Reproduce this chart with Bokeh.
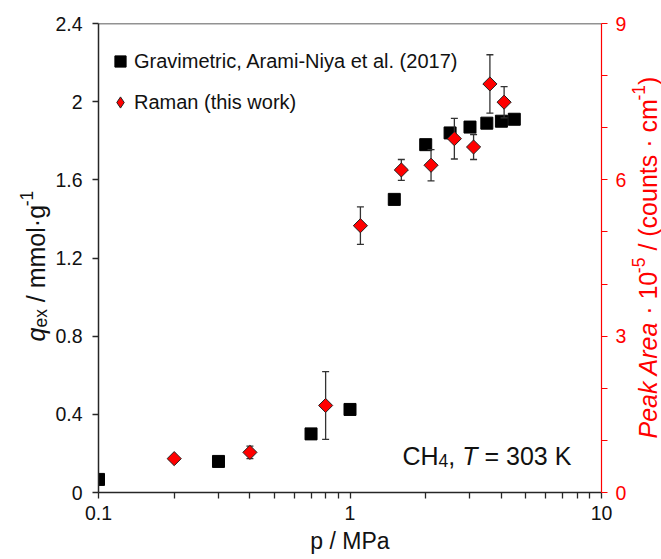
import numpy as np
from bokeh.plotting import figure
from bokeh.layouts import row
from bokeh.models import (Range1d, LinearAxis, FixedTicker, CustomJSTickFormatter,
                          Label, Legend, LegendItem, Span, ColumnDataSource)
from bokeh.embed import file_html
from bokeh.resources import INLINE

# ---------------- data ----------------
grav_p = [0.1, 0.3, 0.7, 1.0, 1.5, 2.0, 2.5, 3.0, 3.5, 4.0, 4.5]
grav_q = [0.067, 0.159, 0.30, 0.425, 1.50, 1.78, 1.84, 1.87, 1.89, 1.90, 1.91]

raman_p = [0.2, 0.4, 0.8, 1.1, 1.6, 2.1, 2.6, 3.1, 3.6, 4.1]
raman_area = [0.65, 0.77, 1.67, 5.12, 6.19, 6.28, 6.79, 6.63, 7.84, 7.49]
raman_err = [0.0, 0.12, 0.65, 0.36, 0.20, 0.30, 0.39, 0.24, 0.56, 0.30]

x_ticks = [0.1, 1, 10]
x_minor = [0.2, 0.3, 0.4, 0.5, 0.6, 0.7, 0.8, 0.9, 2, 3, 4, 5, 6, 7, 8, 9]
left_ticks = [0, 0.4, 0.8, 1.2, 1.6, 2.0, 2.4]
right_ticks = [0, 3, 6, 9]
right_minor = [1, 2, 4, 5, 7, 8]

legend_labels = ["Gravimetric, Arami-Niya et al. (2017)", "Raman (this work)"]
x_title = "p / MPa"

FONT = "Liberation Sans"
DARK = "#262626"
RED = "#FF0000"
BLACK = "#111111"
H = 559
LW = 52   # left title strip width
RW = 31   # right title strip width

# Arial / Liberation Sans advance widths (em)
WID = {'q': .556, 'e': .556, 'x': .5, ' ': .278, '/': .278, 'm': .833,
       'o': .556, 'l': .222, '\u00b7': .278, 'g': .556, '-': .333,
       '1': .556, '5': .556, '0': .556, 'P': .667, 'a': .556, 'k': .5,
       'A': .667, 'r': .333, '(': .333, ')': .333, 'c': .5, 'u': .556,
       'n': .556, 't': .278, 's': .5, 'p': .556, 'M': .833, 'C': .722,
       'H': .722, '4': .556, ',': .278, 'T': .611, '=': .584, '3': .556,
       'K': .667}


def tw(s, size):
    return sum(WID.get(ch, .556) for ch in s) * size


def add_run(fig, x0, y0, parts, angle=0.0, color=BLACK, ox=0.0, oy=0.0):
    """Text run anchored at data (x0, y0); pieces placed with pixel offsets.
    parts: (text, size, italic, baseline_shift_px, gap_before_em)"""
    d = (np.cos(angle), np.sin(angle))
    n = (-np.sin(angle), np.cos(angle))
    adv = 0.0
    for text, size, italic, shift, gap in parts:
        adv += gap * size
        fig.add_layout(Label(x=x0, y=y0,
                             x_offset=ox + adv * d[0] + shift * n[0],
                             y_offset=oy + adv * d[1] + shift * n[1],
                             text=text, angle=angle,
                             text_font=FONT, text_font_size=f"{size}px",
                             text_font_style="italic" if italic else "normal",
                             text_align="left", text_baseline="alphabetic",
                             text_color=color))
        adv += tw(text, size)


def strip(w):
    # frame is aligned with the main plot frame (page y 23..492);
    # data y = H - page_y
    f = figure(width=w, height=H, x_range=Range1d(0, w), y_range=Range1d(H - 492, H - 23),
               x_axis_location=None, y_axis_location=None, title=None,
               output_backend="svg", toolbar_location=None,
               min_border=0, min_border_left=0, min_border_right=0,
               min_border_top=23, min_border_bottom=67)
    f.outline_line_color = None
    f.grid.visible = False
    f.background_fill_color = "white"
    f.border_fill_color = "white"
    return f


# ---------------- main figure ----------------
p = figure(width=661 - LW - RW, height=H, x_axis_type="log",
           x_range=Range1d(0.1, 10), y_range=Range1d(0, 2.4),
           output_backend="svg", toolbar_location=None,
           min_border_left=96 - LW, min_border_right=29,
           min_border_top=23, min_border_bottom=67)
p.extra_y_ranges = {"right": Range1d(0, 9)}
p.xgrid.visible = False
p.ygrid.visible = False
p.outline_line_color = None
p.background_fill_color = "white"
p.border_fill_color = "white"

# x axis
xa = p.xaxis[0]
xa.ticker = FixedTicker(ticks=x_ticks, minor_ticks=x_minor)
xa.formatter = CustomJSTickFormatter(code="return String(tick)")
xa.axis_line_color = DARK
xa.axis_line_width = 1.5
xa.major_tick_line_color = DARK
xa.minor_tick_line_color = DARK
xa.major_tick_line_width = 1.3
xa.minor_tick_line_width = 1.3
xa.major_tick_in = 0
xa.major_tick_out = 6
xa.minor_tick_in = 0
xa.minor_tick_out = 6
xa.major_label_text_font = FONT
xa.major_label_text_font_size = "19.5px"
xa.major_label_text_color = BLACK
xa.major_label_standoff = 7
xa.axis_label = x_title
xa.axis_label_text_font = FONT
xa.axis_label_text_font_size = "23px"
xa.axis_label_text_font_style = "normal"
xa.axis_label_text_color = BLACK
xa.axis_label_standoff = 5

# left axis
ya = p.yaxis[0]
ya.ticker = FixedTicker(ticks=left_ticks, minor_ticks=[])
ya.formatter = CustomJSTickFormatter(code="return String(Math.round(tick*10)/10)")
ya.axis_line_color = DARK
ya.axis_line_width = 1.5
ya.major_tick_line_color = DARK
ya.major_tick_line_width = 1.3
ya.major_tick_in = 0
ya.major_tick_out = 6
ya.minor_tick_line_color = None
ya.major_label_text_font = FONT
ya.major_label_text_font_size = "19.5px"
ya.major_label_text_color = BLACK
ya.major_label_standoff = 10

# right axis
ra = LinearAxis(y_range_name="right",
                ticker=FixedTicker(ticks=right_ticks, minor_ticks=right_minor),
                formatter=CustomJSTickFormatter(code="return String(tick)"))
ra.axis_line_color = RED
ra.axis_line_width = 1.2
ra.major_tick_line_color = RED
ra.minor_tick_line_color = RED
ra.major_tick_in = 0
ra.major_tick_out = 6
ra.minor_tick_in = 0
ra.minor_tick_out = 6
ra.major_label_text_font = FONT
ra.major_label_text_font_size = "19.5px"
ra.major_label_text_color = RED
ra.major_label_standoff = 8
p.add_layout(ra, "right")

# top frame line
p.add_layout(Span(location=2.4, dimension="width", line_color=DARK, line_width=1.5))

# ---------------- data glyphs ----------------
src_g = ColumnDataSource(dict(x=grav_p, y=grav_q))
r_sq = p.scatter("x", "y", source=src_g, marker="square", size=12,
                 fill_color="black", line_color="black")

lo = [a - e for a, e in zip(raman_area, raman_err)]
hi = [a + e for a, e in zip(raman_area, raman_err)]
src_r = ColumnDataSource(dict(x=raman_p, y=raman_area, lo=lo, hi=hi))
p.segment(x0="x", y0="lo", x1="x", y1="hi", source=src_r, y_range_name="right",
          line_color="#333333", line_width=1.3)
p.scatter("x", "lo", source=src_r, y_range_name="right", marker="dash", size=7,
          line_color="#333333", line_width=1.3)
p.scatter("x", "hi", source=src_r, y_range_name="right", marker="dash", size=7,
          line_color="#333333", line_width=1.3)
r_dm = p.scatter("x", "y", source=src_r, y_range_name="right", marker="square",
                 angle=np.pi / 4, size=10, fill_color=RED, line_color="#222222",
                 line_width=1)

# hidden renderer that only supplies the diamond symbol to the legend
r_dm_leg = p.scatter("x", "y", source=src_r, y_range_name="right", marker="diamond",
                     fill_color=RED, line_color="#222222", line_width=1, visible=False)

# ---------------- legend ----------------
legend = Legend(items=[LegendItem(label=legend_labels[0], renderers=[r_sq]),
                       LegendItem(label=legend_labels[1], renderers=[r_dm_leg])],
                location=(8, 376), orientation="vertical",
                background_fill_alpha=0, border_line_color=None,
                padding=0, margin=0, spacing=13,
                glyph_width=28, glyph_height=28, label_height=28,
                label_standoff=0, label_text_font=FONT,
                label_text_font_size="20px", label_text_color=BLACK,
                inactive_fill_alpha=0.0, click_policy="none")
p.add_layout(legend)

# ---------------- annotation: CH4, T = 303 K ----------------
add_run(p, 10, 0, [("CH", 25, False, 0, 0), ("4", 17.5, False, -5, 0),
                   (",", 25, False, 0, 0), ("T", 25, True, 0, 0.278),
                   ("= 303 K", 25, False, 0, 0.278)],
        ox=402 - 601, oy=492 - 455)

# ---------------- axis title strips (rotated, mixed styles) ----------------
left = strip(LW)
add_run(left, 35, H - 341,
        [("q", 25, True, 0, 0), ("ex", 17.5, False, -5, 0),
         ("/ mmol\u00b7g", 25, False, 0, 0.278), ("-1", 17.5, False, 9, 0)],
        angle=np.pi / 2)

right = strip(RW)
add_run(right, 17, H - 438,
        [("Peak Area", 25, True, 0, 0), ("\u00b7 10", 25, False, 0, 0.278),
         ("-5", 17.5, False, 9, 0), ("/ (counts \u00b7 cm", 25, False, 0, 0.278),
         ("-1", 17.5, False, 9, 0), (")", 25, False, 0, 0)],
        angle=np.pi / 2, color=RED)

layout = row(left, p, right, spacing=0)

open("out.html", "w").write(file_html(layout, INLINE))
